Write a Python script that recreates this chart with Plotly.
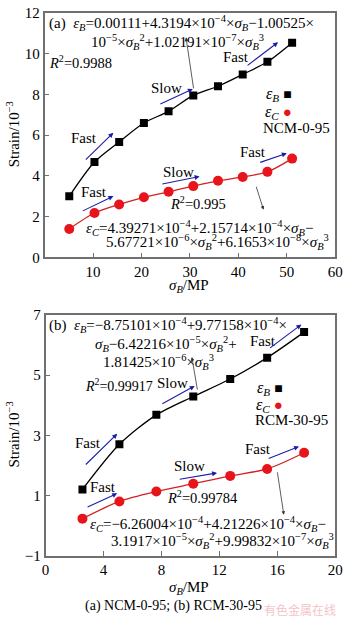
import plotly.graph_objects as go

# ---- data: panel (a) NCM-0-95 ----
sigma_a = [5.1, 10.3, 15.4, 20.5, 25.6, 30.7, 35.8, 40.9, 46.0, 51.1]
epsB_a = [3.0, 4.68, 5.67, 6.6, 7.17, 7.95, 8.4, 8.98, 9.6, 10.54]
epsC_a = [1.4, 2.18, 2.6, 2.95, 3.22, 3.5, 3.76, 3.95, 4.2, 4.85]

# ---- data: panel (b) RCM-30-95 ----
sigma_b = [2.55, 5.1, 7.65, 10.2, 12.75, 15.3, 17.85]
epsB_b = [1.2, 2.7, 3.68, 4.29, 4.87, 5.58, 6.43]
epsC_b = [0.23, 0.8, 1.13, 1.39, 1.65, 1.88, 2.42]

xticks_a = [10, 20, 30, 40, 50, 60]
yticks_a = [0, 2, 4, 6, 8, 10, 12]
xticks_b = [0, 4, 8, 12, 16, 20]
yticks_b = [-1, 1, 3, 5, 7]

FONT = "Liberation Serif"
BLUE = "#1c1ca8"
RED = "#e8141c"
W, H = 350, 626
FS = 15  # formula font size

fig = go.Figure()
for xs, ys, xa, ya in [(sigma_a, epsB_a, "x", "y"), (sigma_b, epsB_b, "x2", "y2")]:
    fig.add_trace(go.Scatter(x=xs, y=ys, xaxis=xa, yaxis=ya, mode="lines+markers",
                             line=dict(color="black", width=1.3, shape="spline", smoothing=0.8),
                             marker=dict(symbol="square", size=8, color="black"),
                             showlegend=False))
for xs, ys, xa, ya in [(sigma_a, epsC_a, "x", "y"), (sigma_b, epsC_b, "x2", "y2")]:
    fig.add_trace(go.Scatter(x=xs, y=ys, xaxis=xa, yaxis=ya, mode="lines+markers",
                             line=dict(color="#d42020", width=1.3, shape="spline", smoothing=0.8),
                             marker=dict(symbol="circle", size=10, color=RED),
                             showlegend=False))

def px2paper(px, py):
    return px / W, 1 - py / H

ax_common = dict(showline=True, linecolor="#707070", linewidth=1.5, mirror=True,
                 ticks="inside", ticklen=5, tickcolor="#707070", showgrid=False,
                 zeroline=False, ticklabeloverflow="allow",
                 tickfont=dict(family=FONT, size=15, color="black"))

fig.update_layout(
    width=W, height=H, margin=dict(l=0, r=0, t=0, b=0),
    paper_bgcolor="white", plot_bgcolor="white",
    font=dict(family=FONT, size=14, color="black"),
    xaxis=dict(domain=[42 / W, 343 / W], range=[0, 60], tickvals=xticks_a, anchor="y", **ax_common),
    yaxis=dict(domain=[1 - 256 / H, 1 - 5 / H], range=[0, 12], tickvals=yticks_a, anchor="x", **ax_common),
    xaxis2=dict(domain=[43 / W, 343 / W], range=[0, 20], tickvals=xticks_b, anchor="y2", **ax_common),
    yaxis2=dict(domain=[1 - 562 / H, 1 - 315 / H], range=[-1, 7], tickvals=yticks_b, anchor="x2", **ax_common),
)

ann = []
def txt(x, y, t, xr="x", yr="y", xanchor="center", size=FS, color="black"):
    ann.append(dict(x=x, y=y, xref=xr, yref=yr, text=t, showarrow=False, xanchor=xanchor,
                    yanchor="middle", font=dict(family=FONT, size=size, color=color)))

def arrow(tx, ty, hx, hy, xr="x", yr="y", color=BLUE, width=1.1, head=2, size=0.9):
    ann.append(dict(x=hx, y=hy, ax=tx, ay=ty, xref=xr, yref=yr, axref=xr, ayref=yr,
                    text="", showarrow=True, arrowhead=head, arrowsize=size,
                    arrowwidth=width, arrowcolor=color))

eB = "<i>ε<sub>B</sub></i>"
eC = "<i>ε<sub>C</sub></i>"
sB = "<i>σ<sub>B</sub></i>"
R2 = "<i>R</i><sup>2</sup>"

# panel (a)
txt(0.6, 11.52, f"(a)  {eB}=0.00111+4.3194×10<sup>−4</sup>×{sB}−1.00525×", xanchor="left")
txt(27.4, 10.56, f"10<sup>−5</sup>×{sB}<sup>2</sup>+1.02191×10<sup>−7</sup>×{sB}<sup>3</sup>")
txt(0.6, 9.6, f"{R2}=0.9988", xanchor="left", size=14.5)
arrow(30.8, 8.22, 29.2, 10.8, color="#333333", width=0.8, head=2, size=1.0)
txt(8.2, 5.88, "Fast"); arrow(8.2, 4.73, 14.2, 6.12)
txt(25.2, 8.32, "Slow"); arrow(23.6, 7.5, 30.6, 8.27)
txt(39.6, 9.85, "Fast"); arrow(41.6, 9.37, 48.2, 10.56)
txt(10.2, 3.2, "Fast"); arrow(7.6, 2.25, 14.2, 3.01)
txt(27.6, 4.2, "Slow"); arrow(24.0, 3.59, 32.0, 3.97)
txt(43.0, 5.16, "Fast"); arrow(44.2, 4.64, 50.0, 5.11)
txt(31.6, 2.68, f"{R2}=0.995", size=14.5)
txt(32.0, 1.43, f"{eC}=4.39271×10<sup>−4</sup>+2.15714×10<sup>−4</sup>×{sB}−")
txt(35.6, 0.76, f"5.67721×10<sup>−6</sup>×{sB}<sup>2</sup>+6.1653×10<sup>−8</sup>×{sB}<sup>3</sup>")
arrow(43.6, 3.54, 45.2, 2.34, color="#333333", width=0.8)
txt(51.5, 7.98, f"{eB} <span style='font-size:14px'>■</span>", xanchor="right", size=16)
txt(51.5, 7.12, f"{eC} <span style='color:{RED};font-size:15px'>●</span>", xanchor="right", size=16)
txt(52.0, 6.36, "NCM-0-95", size=15)

# panel (b)
txt(0.13, 6.68, f"(b)  {eB}=−8.75101×10<sup>−4</sup>+9.77158×10<sup>−4</sup>×", xr="x2", yr="y2", xanchor="left")
txt(8.3, 6.03, f"{sB}−6.42216×10<sup>−5</sup>×{sB}<sup>2</sup>+", xr="x2", yr="y2")
txt(7.8, 5.45, f"1.81425×10<sup>−6</sup>×{sB}<sup>3</sup>", xr="x2", yr="y2")
txt(2.6, 4.67, f"{R2}=0.99917", xr="x2", yr="y2", xanchor="left", size=14)
arrow(10.5, 4.47, 10.1, 5.6, xr="x2", yr="y2", color="#333333", width=0.8)
txt(8.8, 4.74, "Slow", xr="x2", yr="y2"); arrow(7.96, 4.02, 10.3, 4.64, xr="x2", yr="y2")
txt(15.0, 6.13, "Fast", xr="x2", yr="y2"); arrow(15.4, 5.87, 17.66, 6.68, xr="x2", yr="y2")
txt(2.94, 2.76, "Fast", xr="x2", yr="y2"); arrow(2.68, 1.98, 4.95, 3.05, xr="x2", yr="y2")
txt(16.5, 4.54, f"{eB} <span style='font-size:14px'>■</span>", xr="x2", yr="y2", xanchor="right", size=16)
txt(16.5, 3.99, f"{eC} <span style='color:{RED};font-size:15px'>●</span>", xr="x2", yr="y2", xanchor="right", size=16)
txt(17.0, 3.5, "RCM-30-95", xr="x2", yr="y2", size=15)
txt(3.95, 1.27, "Fast", xr="x2", yr="y2"); arrow(2.8, 0.59, 4.95, 1.07, xr="x2", yr="y2")
txt(9.97, 1.98, "Slow", xr="x2", yr="y2"); arrow(9.16, 1.53, 11.84, 1.75, xr="x2", yr="y2")
txt(14.7, 2.53, "Fast", xr="x2", yr="y2"); arrow(15.3, 2.21, 17.5, 2.63, xr="x2", yr="y2")
txt(10.84, 0.94, f"{R2}=0.99784", xr="x2", yr="y2", size=14.5)
txt(11.24, 0.04, f"{eC}=−6.26004×10<sup>−4</sup>+4.21226×10<sup>−4</sup>×{sB}−", xr="x2", yr="y2")
txt(12.24, -0.51, f"3.1917×10<sup>−5</sup>×{sB}<sup>2</sup>+9.99832×10<sup>−7</sup>×{sB}<sup>3</sup>", xr="x2", yr="y2")
arrow(15.99, 1.82, 16.45, 0.36, xr="x2", yr="y2", color="#333333", width=0.8)

# axis titles & caption (paper coords)
for (px, py, t, ang, sz, col) in [
    (9, 130, "Strain/10<sup>−3</sup>", -90, 15, "black"),
    (9, 438, "Strain/10<sup>−3</sup>", -90, 15, "black"),
    (192, 285, f"{sB}/MP", 0, 15, "black"),
    (192, 595, f"{sB}/MP", 0, 15, "black"),
    (176, 614, "(a) NCM-0-95; (b) RCM-30-95", 0, 14, "black"),
    (306, 617, "有色金属在线", 0, 12, "#f4c4c8"),
]:
    x, y = px2paper(px, py)
    ann.append(dict(x=x, y=y, xref="paper", yref="paper", text=t, showarrow=False,
                    textangle=ang, xanchor="center", yanchor="middle",
                    font=dict(family=FONT if col == "black" else "Noto Sans CJK SC", size=sz, color=col)))

fig.update_layout(annotations=ann)
fig.write_html("out.html")
